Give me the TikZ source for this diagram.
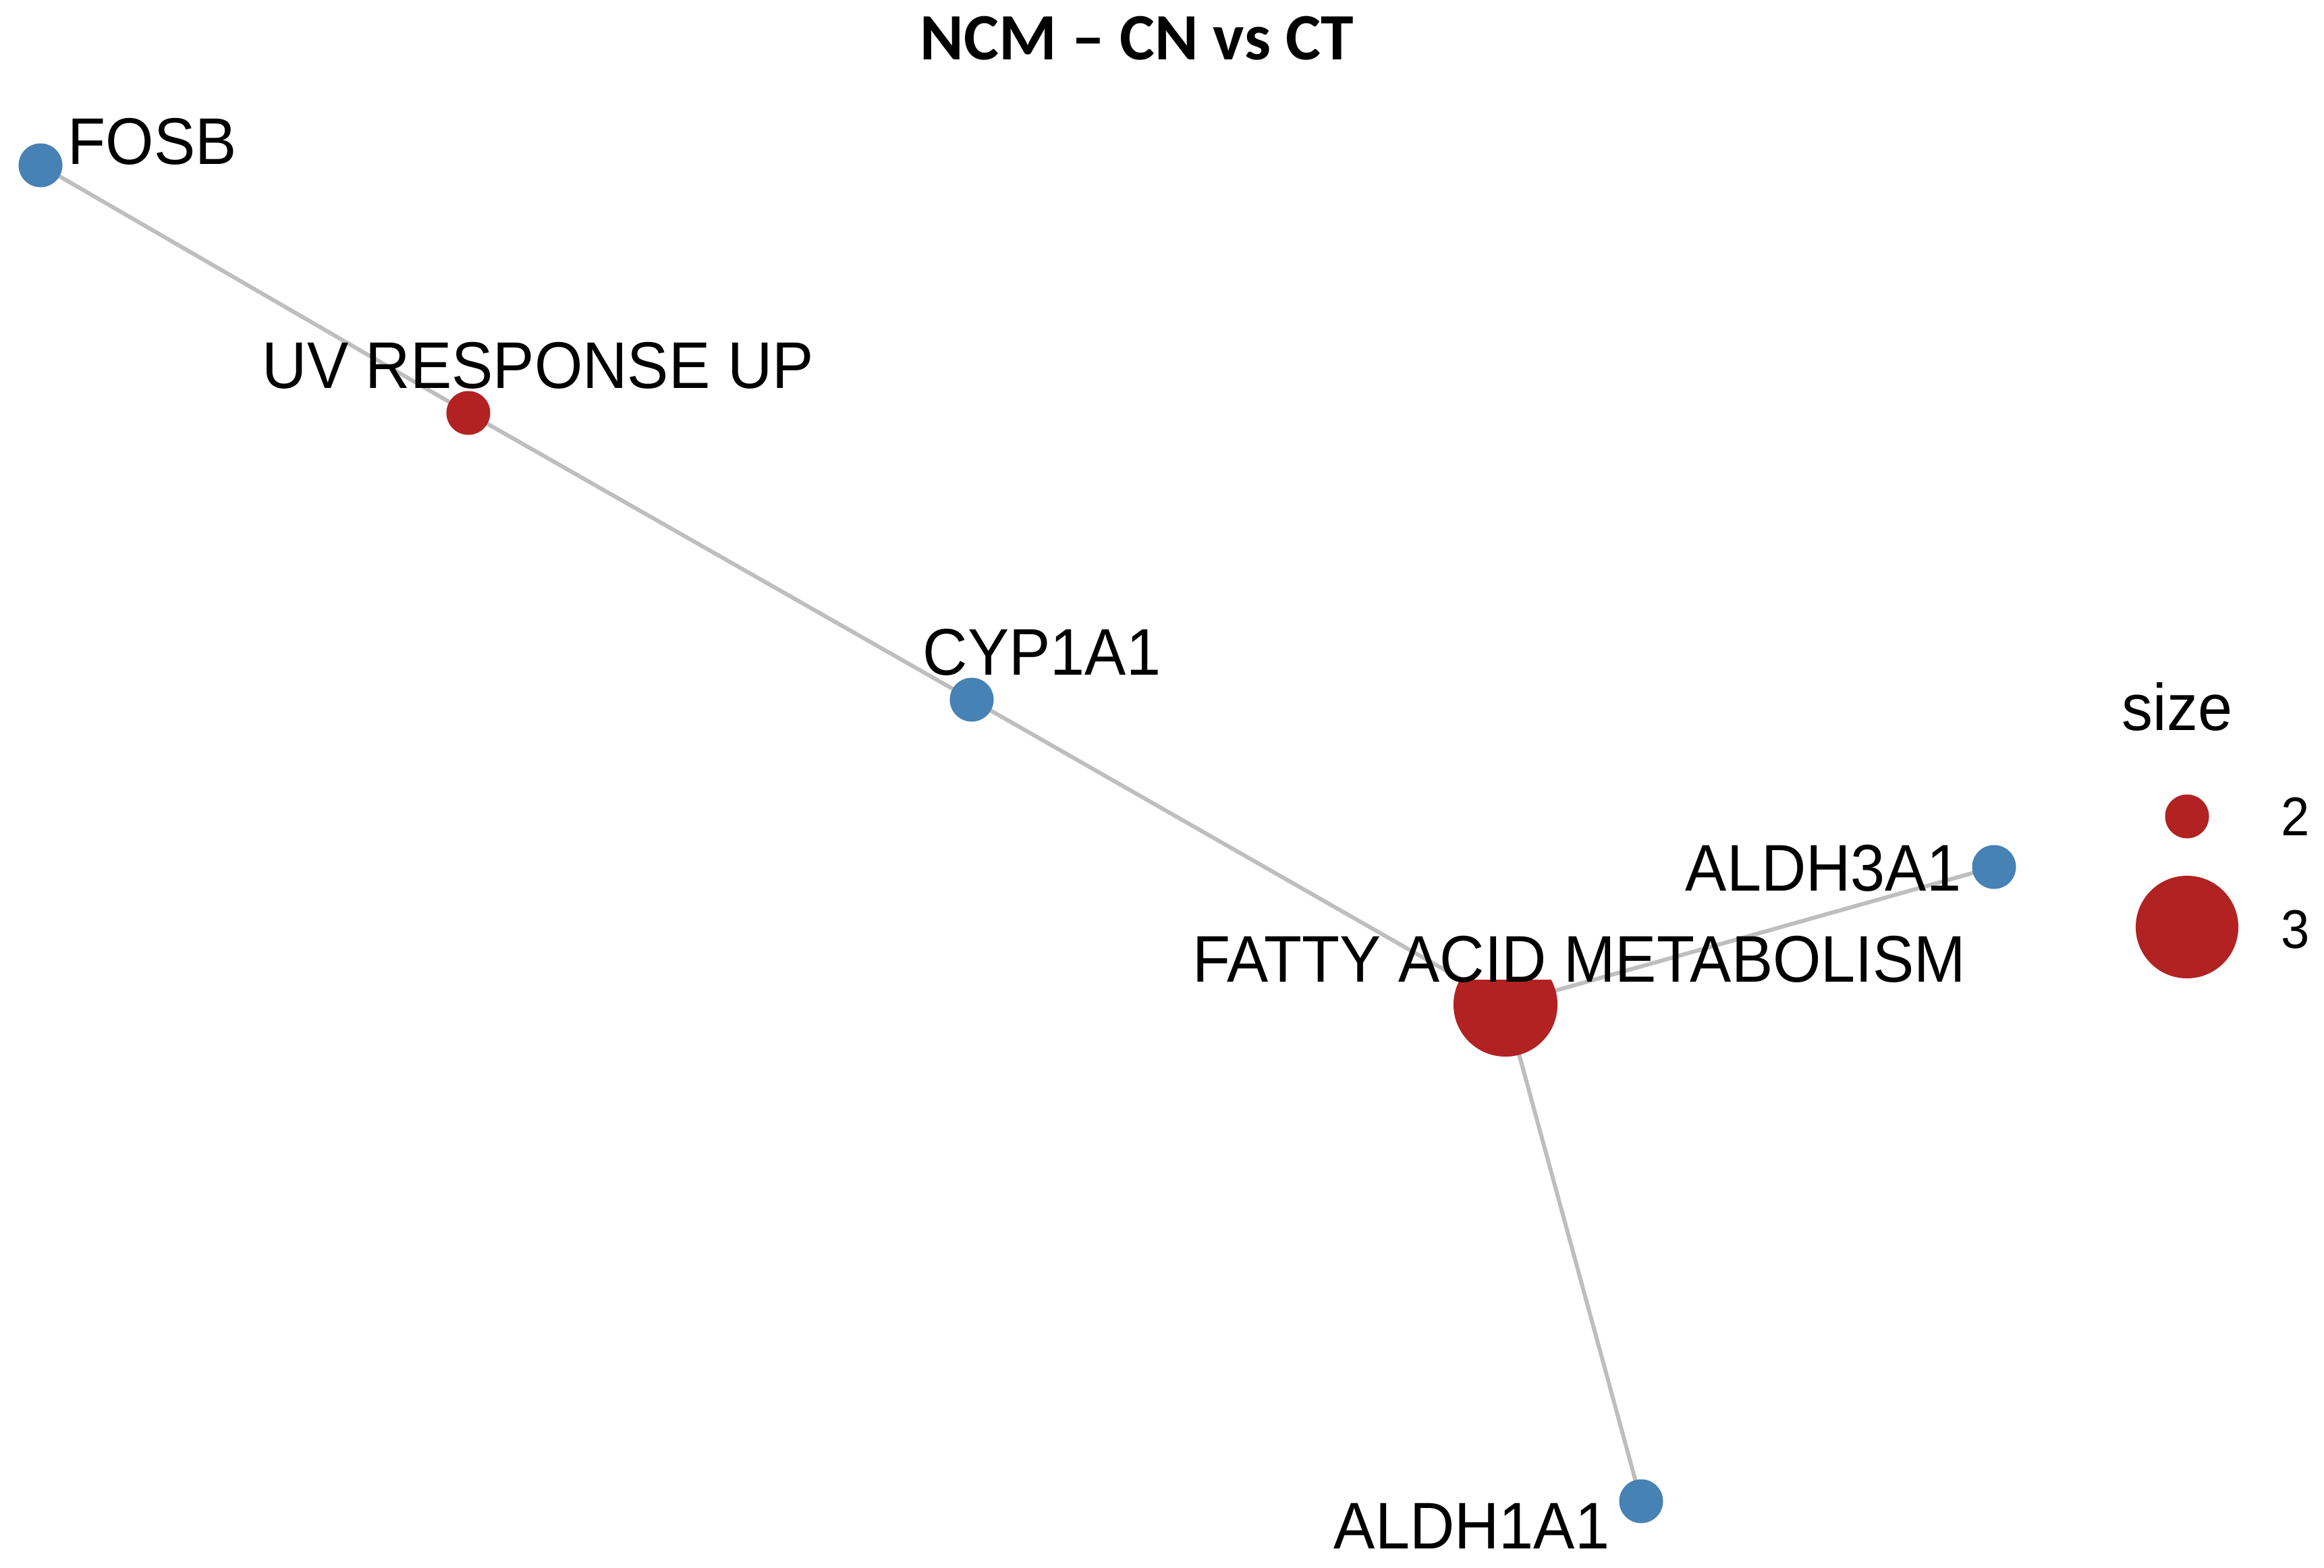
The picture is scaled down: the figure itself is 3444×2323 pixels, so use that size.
\documentclass[tikz,border=0pt]{standalone}
\usepackage{fontspec}
\newfontfamily\labfont[FakeStretch=0.94]{Liberation Sans}
\newfontfamily\titlefont{Carlito}
\definecolor{geneblue}{RGB}{70,130,180}
\definecolor{pathred}{RGB}{178,34,34}
\definecolor{edgegray}{RGB}{190,190,190}
\pgfdeclarelayer{bg}
\pgfsetlayers{bg,main}
\tikzset{
  lab/.style={font=\labfont\fontsize{27.8}{30}\selectfont, inner sep=0pt, anchor=base west},
  legnum/.style={font=\labfont\fontsize{23}{26}\selectfont, inner sep=0pt, anchor=base west},
  genedot/.style={circle, fill=geneblue, draw=none, inner sep=0pt, minimum size=0.65cm},
  pathsmall/.style={circle, fill=pathred, draw=none, inner sep=0pt, minimum size=0.65cm},
  pathbig/.style={circle, fill=pathred, draw=none, inner sep=0pt, minimum size=1.54cm},
  edge/.style={draw=edgegray, line width=1.7pt},
}
\begin{document}
\begin{tikzpicture}[x=0.01cm, y=-0.01cm]
\useasboundingbox (0,0) rectangle (3444,2323);
\begin{pgfonlayer}{bg}
\fill[white] (0,0) rectangle (3444,2323);
\end{pgfonlayer}

% title
\node[font=\titlefont\bfseries\fontsize{27.9}{30}\selectfont, inner sep=0pt, anchor=base] (title) at (1685,88) {NCM – CN vs CT};

% dots
\node[genedot] (fosb) at (60,245) {};
\node[pathsmall] (uv) at (694,612) {};
\node[genedot] (cyp) at (1440,1037) {};
\coordinate (fatty) at (2231,1489);
\begin{scope}
\clip (2100,1452) rectangle (2400,1600);
\node[pathbig] (fattydot) at (fatty) {};
\end{scope}
\node[genedot] (aldh3) at (2955,1285) {};
\node[genedot] (aldh1) at (2432,2225) {};

% edges
\begin{pgfonlayer}{bg}
\draw[edge] (fosb.center) -- (uv.center);
\draw[edge] (uv.center) -- (cyp.center);
\draw[edge] (cyp.center) -- (fatty);
\draw[edge] (fatty) -- (aldh3.center);
\draw[edge] (fatty) -- (aldh1.center);
\end{pgfonlayer}

% labels
\node[lab] (lfosb) at (100,243) {FOSB};
\node[lab] (luv) at (388,575) {UV RESPONSE UP};
\node[lab] (lcyp) at (1367,1000) {CYP1A1};
\node[lab] (lfatty) at (1767,1455) {FATTY ACID METABOLISM};
\node[lab] (laldh3) at (2497,1320) {ALDH3A1};
\node[lab] (laldh1) at (1976,2295) {ALDH1A1};

% legend
\node[lab] (legtitle) at (3144,1082) {size};
\node[pathsmall] (leg2) at (3241,1210) {};
\node[pathbig, minimum size=1.52cm] (leg3) at (3241,1374) {};
\node[legnum] (legl2) at (3380,1238) {2};
\node[legnum] (legl3) at (3380,1405) {3};
\end{tikzpicture}
\end{document}
